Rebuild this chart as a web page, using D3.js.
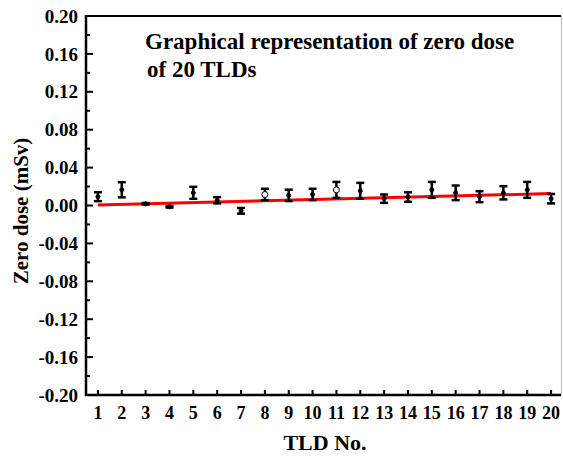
<!DOCTYPE html>
<html>
<head>
<meta charset="utf-8">
<script src="https://cdn.jsdelivr.net/npm/d3@7"></script>
<style>
  body { margin: 0; background: #fff; }
  text { font-family: "Liberation Serif", "Times New Roman", serif; font-weight: bold; fill: #000; }
</style>
</head>
<body>
<div id="chart"></div>
<script>
// TLD numbers, mean zero dose (mSv) and error (mSv)
var tldNo = [1, 2, 3, 4, 5, 6, 7, 8, 9, 10, 11, 12, 13, 14, 15, 16, 17, 18, 19, 20];
var zeroDose = [0.0093, 0.0166, 0.0018, -0.0014, 0.0134, 0.0055, -0.0056, 0.0116, 0.0107, 0.0116,
                0.0165, 0.0155, 0.0072, 0.0089, 0.0165, 0.0134, 0.0093, 0.0134, 0.0165, 0.0072];
var doseErr = [0.0047, 0.0080, 0.0008, 0.0008, 0.0063, 0.0033, 0.0030, 0.0060, 0.0060, 0.0060,
               0.0084, 0.0084, 0.0044, 0.0050, 0.0084, 0.0077, 0.0058, 0.0070, 0.0084, 0.0050];
// linear fit, value at TLD 1 and TLD 20
var fitX = [1, 20];
var fitY = [0.0005, 0.0126];
var yTicks = [-0.20, -0.16, -0.12, -0.08, -0.04, 0.00, 0.04, 0.08, 0.12, 0.16, 0.20];
var hollowPoints = [8, 11];

var width = 563, height = 457;
var mLeft = 86, mRight = 561, mTop = 16, mBottom = 395;

var svg = d3.select("#chart").append("svg")
  .attr("width", width)
  .attr("height", height);

var x = d3.scaleLinear().domain([0.5, 20.5]).range([mLeft, 563]);
var y = d3.scaleLinear().domain([-0.2, 0.2]).range([mBottom, mTop]);

// frame (top + right)
svg.append("line").attr("x1", mLeft).attr("x2", mRight).attr("y1", mTop).attr("y2", mTop)
  .style("stroke", "#000").style("stroke-width", 2);
svg.append("line").attr("x1", mRight + 0.5).attr("x2", mRight + 0.5).attr("y1", mTop).attr("y2", mBottom)
  .style("stroke", "#bbb").style("stroke-width", 1);

// y axis, inside ticks
var minorY = d3.range(-0.18, 0.2, 0.04);
var yAxis = svg.append("g").attr("transform", "translate(" + mLeft + ",0)");
yAxis.selectAll(".minor").data(minorY).enter().append("line")
  .attr("class", "minor")
  .attr("x1", 0).attr("x2", 4)
  .attr("y1", function(d) { return y(d); }).attr("y2", function(d) { return y(d); })
  .style("stroke", "#000").style("stroke-width", 2);
yAxis.selectAll(".major").data(yTicks).enter().append("line")
  .attr("class", "major")
  .attr("x1", 0).attr("x2", 7)
  .attr("y1", function(d) { return y(d); }).attr("y2", function(d) { return y(d); })
  .style("stroke", "#000").style("stroke-width", 2);
yAxis.selectAll(".lbl").data(yTicks).enter().append("text")
  .attr("class", "lbl")
  .attr("x", -8)
  .attr("y", function(d) { return y(d); })
  .attr("dy", "0.35em")
  .attr("text-anchor", "end")
  .style("font-size", "19px")
  .text(function(d) { return d3.format(".2f")(d).replace("\u2212", "-"); });
yAxis.append("line").attr("x1", 0).attr("x2", 0).attr("y1", mTop - 1).attr("y2", mBottom + 1)
  .style("stroke", "#000").style("stroke-width", 2.5);

// x axis, inside ticks
var xAxis = svg.append("g");
xAxis.selectAll(".tick").data(tldNo).enter().append("line")
  .attr("x1", function(d) { return x(d); }).attr("x2", function(d) { return x(d); })
  .attr("y1", mBottom).attr("y2", mBottom - 5)
  .style("stroke", "#000").style("stroke-width", 2);
xAxis.selectAll(".lbl").data(tldNo).enter().append("text")
  .attr("x", function(d) { return x(d); })
  .attr("y", mBottom + 24)
  .attr("text-anchor", "middle")
  .style("font-size", "18px")
  .text(function(d) { return d; });
xAxis.append("line").attr("x1", mLeft - 1).attr("x2", mRight).attr("y1", mBottom).attr("y2", mBottom)
  .style("stroke", "#000").style("stroke-width", 2.5);

// axis titles
svg.append("text")
  .attr("transform", "translate(" + 28 + "," + 211 + ") rotate(-90)")
  .attr("text-anchor", "middle")
  .style("font-size", "21px")
  .text("Zero dose (mSv)");
svg.append("text")
  .attr("x", 325).attr("y", 450)
  .attr("text-anchor", "middle")
  .style("font-size", "22px")
  .text("TLD No.");

// chart title
svg.append("text").attr("x", 145).attr("y", 49).style("font-size", "23px")
  .text("Graphical representation of zero dose");
svg.append("text").attr("x", 147).attr("y", 77).style("font-size", "23px")
  .text("of 20 TLDs");

// fit line
svg.append("line")
  .attr("x1", x(fitX[0])).attr("y1", y(fitY[0]))
  .attr("x2", x(fitX[1])).attr("y2", y(fitY[1]))
  .style("stroke", "#ff0000").style("stroke-width", 3);

// error bars + markers
var pts = tldNo.map(function(d, i) { return { n: d, v: zeroDose[i], e: doseErr[i] }; });
var bars = svg.selectAll(".err").data(pts).enter().append("g").attr("class", "err");
bars.append("line")
  .attr("x1", function(d) { return x(d.n); }).attr("x2", function(d) { return x(d.n); })
  .attr("y1", function(d) { return y(d.v + d.e); }).attr("y2", function(d) { return y(d.v - d.e); })
  .style("stroke", "#000").style("stroke-width", 2.5);
bars.selectAll(".cap")
  .data(function(d) { return [ { n: d.n, v: d.v + d.e }, { n: d.n, v: d.v - d.e } ]; })
  .enter().append("line")
  .attr("class", "cap")
  .attr("x1", function(d) { return x(d.n) - 4; }).attr("x2", function(d) { return x(d.n) + 4; })
  .attr("y1", function(d) { return y(d.v); }).attr("y2", function(d) { return y(d.v); })
  .style("stroke", "#000").style("stroke-width", 2.5);
bars.append("circle")
  .attr("cx", function(d) { return x(d.n); })
  .attr("cy", function(d) { return y(d.v); })
  .attr("r", function(d) { return hollowPoints.indexOf(d.n) >= 0 ? 3 : 2; })
  .style("fill", function(d) { return hollowPoints.indexOf(d.n) >= 0 ? "#fff" : "#000"; })
  .style("stroke", "#000").style("stroke-width", 1);
</script>
</body>
</html>
